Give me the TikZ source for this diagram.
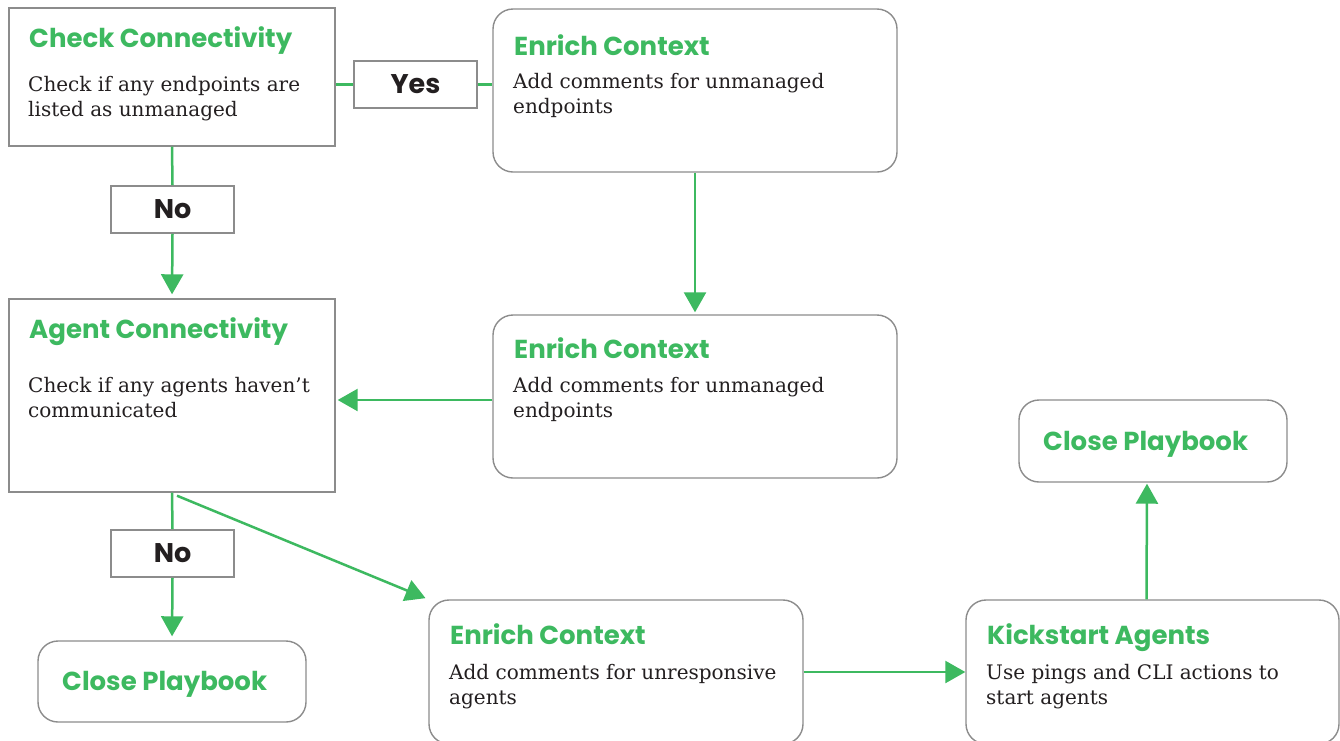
\documentclass[tikz,border=0pt]{standalone}
\usepackage{fontspec}
\setmainfont{DejaVu Serif}
\newfontfamily\headfont{Poppins}
\usepackage{tikz}
\usetikzlibrary{arrows.meta,%
                positioning}
\definecolor{GreenLine}{HTML}{3DB960}
\definecolor{BoxGray}{HTML}{8C8C8C}
\definecolor{TextBlack}{HTML}{231F20}

\begin{document}
\begin{tikzpicture}[x=1pt,y=-1pt]
  \tikzstyle{BoxStyle}=[draw=BoxGray,line width=1.4pt,inner sep=0pt,fill=white]
  \tikzstyle{RoundStyle}=[BoxStyle,rounded corners=20pt]
  \tikzstyle{AnswerStyle}=[draw=BoxGray,line width=1.8pt,minimum width=123pt,
    minimum height=47pt,inner sep=0pt,text=TextBlack,
    font=\headfont\bfseries\fontsize{27}{30}\selectfont]
  \tikzstyle{TitleStyle}=[anchor=base west,inner sep=0pt,text=GreenLine,
    font=\headfont\bfseries\fontsize{26}{30}\selectfont]
  \tikzstyle{BodyStyle}=[anchor=base west,inner sep=0pt,align=left,text=TextBlack,
    font=\fontsize{20}{24.5}\selectfont]
  \tikzstyle{EdgeStyle}=[draw=GreenLine,line width=2.5pt]
  \tikzstyle{ArrowStyle}=[EdgeStyle,-{Triangle[length=20pt,width=22pt]}]
  \fill[white] (0,0) rectangle (1340,740);
  \useasboundingbox (0,0) rectangle (1340,740);
  % boxes
  \node[BoxStyle,minimum width=326pt,minimum height=138pt] (checkconn) at (172,77) {};
  \node[AnswerStyle] (yes) at (415.5,84.5) {Yes};
  \node[RoundStyle,minimum width=404pt,minimum height=163pt] (enrichA) at (695,90.5) {};
  \node[AnswerStyle] (noA) at (172.5,209.5) {No};
  \node[BoxStyle,minimum width=326pt,minimum height=193pt] (agentconn) at (172,395.5) {};
  \node[RoundStyle,minimum width=404pt,minimum height=163pt] (enrichB) at (695,396.5) {};
  \node[AnswerStyle] (noB) at (172.5,553.5) {No};
  \node[RoundStyle,minimum width=268pt,minimum height=81pt] (closeA) at (172,681.5) {};
  \node[RoundStyle,minimum width=374pt,minimum height=144pt] (enrichC) at (616,672) {};
  \node[RoundStyle,minimum width=373pt,minimum height=144pt] (kickstart) at (1152.5,672) {};
  \node[RoundStyle,minimum width=268pt,minimum height=82pt] (closeB) at (1153,441) {};
  % texts
  \node[TitleStyle] (checkconn-t) at (29,47) {Check Connectivity};
  \node[BodyStyle] (checkconn-b) at (28,116) {Check if any endpoints are\\listed as unmanaged};
  \node[TitleStyle] (enrichA-t) at (514,55) {Enrich Context};
  \node[BodyStyle] (enrichA-b) at (513,113) {Add comments for unmanaged\\endpoints};
  \node[TitleStyle] (agentconn-t) at (29,338) {Agent Connectivity};
  \node[BodyStyle] (agentconn-b) at (28,417) {Check if any agents haven’t\\communicated};
  \node[TitleStyle] (enrichB-t) at (514,358) {Enrich Context};
  \node[BodyStyle] (enrichB-b) at (513,417) {Add comments for unmanaged\\endpoints};
  \node[TitleStyle] (closeA-t) at (62,690) {Close Playbook};
  \node[TitleStyle] (enrichC-t) at (450,644) {Enrich Context};
  \node[BodyStyle] (enrichC-b) at (449,704) {Add comments for unresponsive\\agents};
  \node[TitleStyle] (kickstart-t) at (987,644) {Kickstart Agents};
  \node[BodyStyle] (kickstart-b) at (986,704) {Use pings and CLI actions to\\start agents};
  \node[TitleStyle] (closeB-t) at (1043,450) {Close Playbook};
  % connectors
  \draw[EdgeStyle] (yes.west) -- (yes.west -| checkconn.east);
  \draw[EdgeStyle] (yes.east) -- (yes.east -| enrichA.west);
  \draw[EdgeStyle] (checkconn.south) -- (noA.north);
  \draw[ArrowStyle,shorten >=4pt] (noA.south) -- (agentconn.north);
  \draw[ArrowStyle,shorten >=2pt] (enrichA.south) -- (enrichB.north);
  \draw[ArrowStyle,shorten >=2pt] ([yshift=-3.5pt]enrichB.west) -- ([yshift=-3.5pt]enrichB.west -| agentconn.east);
  \draw[EdgeStyle] (agentconn.south) -- (noB.north);
  \draw[ArrowStyle,shorten >=4pt] (noB.south) -- (closeA.north);
  \draw[ArrowStyle,shorten >=3pt] ([xshift=5pt,yshift=-3pt]agentconn.south) -- (enrichC.north west);
  \draw[ArrowStyle] (enrichC.east) -- (kickstart.west);
  \draw[ArrowStyle,shorten >=1pt] ([xshift=-6pt]kickstart.north) -- ([xshift=-6pt]closeB.south);
\end{tikzpicture}
\end{document}
